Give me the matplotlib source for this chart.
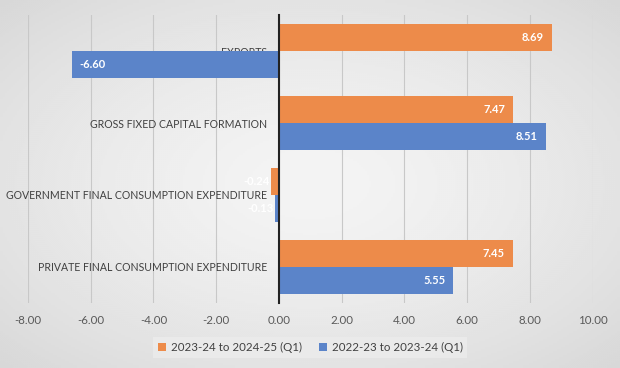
import numpy as np
import matplotlib
matplotlib.use('Agg')
import matplotlib.pyplot as plt

# datos
categorias = ['EXPORTS', 'GROSS FIXED CAPITAL FORMATION',
              'GOVERNMENT FINAL CONSUMPTION EXPENDITURE',
              'PRIVATE FINAL CONSUMPTION EXPENDITURE']
serie_2425 = [8.69, 7.47, -0.24, 7.45]
serie_2324 = [-6.60, 8.51, -0.13, 5.55]
nombre_2425 = '2023-24 to 2024-25 (Q1)'
nombre_2324 = '2022-23 to 2023-24 (Q1)'

naranja = '#ED8B4A'
azul = '#5B84C9'
fondo = '#e6e6e6'

plt.rcParams['font.family'] = ['Lato', 'DejaVu Sans']

fig = plt.figure(figsize=(6.2, 3.68), dpi=100, facecolor=fondo)

# fondo con degradado radial (claro en el centro, gris en las esquinas)
ax_fondo = fig.add_axes([0, 0, 1, 1], zorder=-1)
gx, gy = np.meshgrid(np.linspace(-1, 1, 310), np.linspace(-1, 1, 184))
r = np.clip(np.sqrt(gx**2 + gy**2) / np.sqrt(2), 0, 1)
gris = 0.955 - 0.11 * r**1.5
ax_fondo.imshow(gris, cmap='gray', vmin=0, vmax=1, aspect='auto',
                extent=[0, 1, 0, 1], interpolation='bilinear')
ax_fondo.axis('off')

ax = fig.add_axes([0.045, 0.177, 0.911, 0.782])
ax.set_facecolor('none')

y = np.arange(len(categorias))
alto = 0.375
b1 = ax.barh(y - alto/2, serie_2425, height=alto, color=naranja, label=nombre_2425)
b2 = ax.barh(y + alto/2, serie_2324, height=alto, color=azul, label=nombre_2324)

for barras, valores in [(b1, serie_2425), (b2, serie_2324)]:
    for barra, v in zip(barras, valores):
        yc = barra.get_y() + barra.get_height()/2
        if v >= 0:
            ax.text(v - 0.25, yc, f'{v:.2f}', ha='right', va='center',
                    color='white', fontsize=8, fontweight='bold')
        elif v < -1:
            ax.text(v + 0.25, yc, f'{v:.2f}', ha='left', va='center',
                    color='white', fontsize=8, fontweight='bold')
        else:
            ax.text(v - 0.05, yc, f'{v:.2f}', ha='right', va='center',
                    color='white', fontsize=8, fontweight='bold', zorder=6)

ax.set_xlim(-8, 10)
ax.set_ylim(3.5, -0.5)
ax.set_xticks(np.arange(-8, 11, 2))
ax.set_xticklabels([f'{t:.2f}' for t in np.arange(-8, 11, 2)])
ax.set_yticks(y)
ax.set_yticklabels(categorias)

ax.spines['left'].set_position(('data', 0))
ax.spines['left'].set_color('#222222')
ax.spines['left'].set_linewidth(1.5)
for s in ['top', 'right', 'bottom']:
    ax.spines[s].set_visible(False)

ax.tick_params(axis='y', length=0, labelsize=7.6, labelcolor='#404040', pad=8.5)
ax.tick_params(axis='x', length=0, labelsize=8.3, labelcolor='#595959', pad=9)
ax.grid(axis='x', color='#c8c8c8', linewidth=0.8)
ax.set_axisbelow(True)
for lbl in ax.get_yticklabels():
    lbl.set_zorder(5)

ax.legend(loc='upper center', bbox_to_anchor=(0.5, -0.1), ncol=2,
          fontsize=8.3, frameon=True, facecolor='#ececec', edgecolor='none',
          fancybox=False, handlelength=0.7, handleheight=0.7,
          handletextpad=0.4, columnspacing=1.5, labelcolor='#404040')

plt.savefig('out.png', dpi=100, facecolor=fondo)
